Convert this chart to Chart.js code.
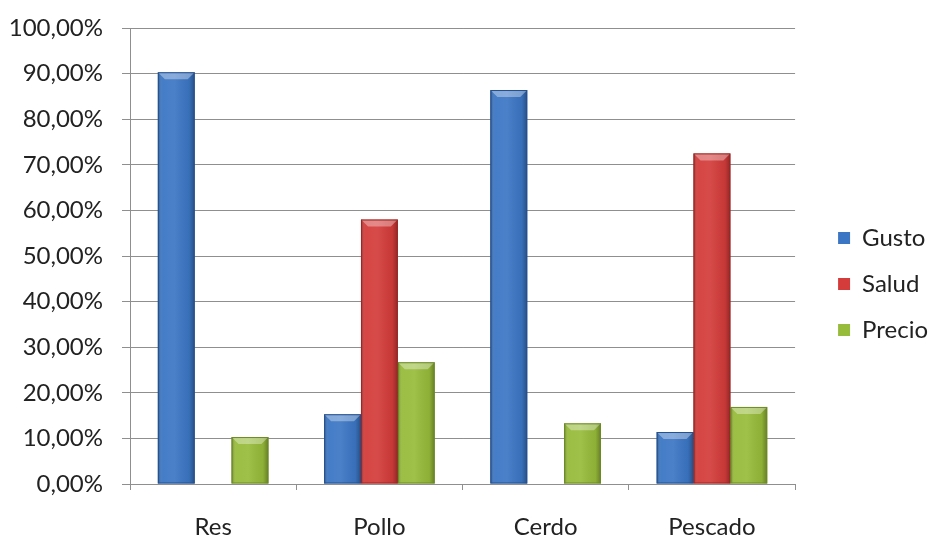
<!DOCTYPE html>
<html>
<head>
<meta charset="utf-8">
<script src="https://cdn.jsdelivr.net/npm/chart.js@4/dist/chart.umd.min.js"></script>
<style>
  html, body { margin: 0; padding: 0; background: #fff; }
  #wrap { width: 930px; height: 536px; }
</style>
</head>
<body>
<div id="wrap"><canvas id="myChart" width="930" height="536"></canvas></div>
<script>
const categories = ['Res', 'Pollo', 'Cerdo', 'Pescado'];
const seriesNames = ['Gusto', 'Salud', 'Precio'];
const gusto = [90.3, 15.3, 86.4, 11.4];
const salud = [0, 58.0, 0, 72.5];
const precio = [10.3, 26.7, 13.3, 16.9];
const yTicks = [0, 10, 20, 30, 40, 50, 60, 70, 80, 90, 100];

const colors = ['#3b76c4', '#d33c3a', '#97bb3a'];
const edgeColors = ['#25508f', '#9c2624', '#6c8a25'];
const gridColor = '#8f8f8f';
const font = { family: 'Lato', size: 24 };

// bevel/shine drawn over each bar from the bar element's own geometry
const bevelPlugin = {
    id: 'bevel',
    afterDatasetsDraw(chart) {
        const c = chart.ctx;
        chart.data.datasets.forEach(function (ds, di) {
            const meta = chart.getDatasetMeta(di);
            meta.data.forEach(function (bar) {
                const p = bar.getProps(['x', 'y', 'base', 'width'], true);
                const h = p.base - p.y;
                if (h < 1) return;
                const l = p.x - p.width / 2;
                const r = p.x + p.width / 2;
                const g = c.createLinearGradient(l, 0, r, 0);
                g.addColorStop(0, 'rgba(0,0,0,0.30)');
                g.addColorStop(0.12, 'rgba(255,255,255,0.05)');
                g.addColorStop(0.45, 'rgba(255,255,255,0.08)');
                g.addColorStop(0.85, 'rgba(0,0,0,0.06)');
                g.addColorStop(1, 'rgba(0,0,0,0.32)');
                c.save();
                c.fillStyle = g;
                c.fillRect(l, p.y, p.width, h);
                const b = Math.min(7, h / 2);
                c.beginPath();
                c.moveTo(l, p.y);
                c.lineTo(r, p.y);
                c.lineTo(r - b, p.y + b);
                c.lineTo(l + b, p.y + b);
                c.closePath();
                c.fillStyle = 'rgba(255,255,255,0.35)';
                c.fill();
                c.strokeStyle = edgeColors[di];
                c.lineWidth = 1;
                c.strokeRect(l + 0.5, p.y + 0.5, p.width - 1, h - 1);
                c.restore();
            });
        });
    }
};

const ctx = document.getElementById('myChart').getContext('2d');
const myChart = new Chart(ctx, {
    type: 'bar',
    data: {
        labels: categories,
        datasets: [gusto, salud, precio].map(function (vals, i) {
            return {
                label: seriesNames[i],
                data: vals,
                backgroundColor: colors[i],
                borderWidth: 0,
                categoryPercentage: 0.665,
                barPercentage: 1
            };
        })
    },
    options: {
        responsive: false,
        animation: false,
        layout: { padding: { top: 28, left: 6, right: -8, bottom: 0 } },
        scales: {
            x: {
                grid: {
                    display: true,
                    drawOnChartArea: false,
                    drawTicks: true,
                    tickLength: 6,
                    color: gridColor
                },
                border: { color: gridColor },
                ticks: {
                    color: '#222',
                    font: { family: 'Lato', size: 24, lineHeight: 1 },
                    padding: 25
                },
                afterFit: function (scale) { scale.height = 52; }
            },
            y: {
                min: 0,
                max: 100,
                afterBuildTicks: function (scale) {
                    scale.ticks = yTicks.map(function (v) { return { value: v }; });
                },
                grid: { color: gridColor, tickLength: 8 },
                border: { color: gridColor },
                ticks: {
                    color: '#222',
                    font: font,
                    padding: 19,
                    callback: function (val) {
                        return val.toFixed(2).replace('.', ',') + '%';
                    }
                },
                afterFit: function (scale) {
                    scale.width = 124;
                    scale.paddingTop = 0;
                    scale.paddingBottom = 0;
                }
            },
            gap: {
                position: 'right',
                display: true,
                grid: { display: false },
                border: { display: false },
                ticks: { display: false },
                afterFit: function (scale) { scale.width = 21; }
            }
        },
        plugins: {
            legend: {
                position: 'right',
                title: {
                    display: true,
                    text: ' ',
                    padding: 0,
                    font: { family: 'Lato', size: 4, lineHeight: 1 }
                },
                labels: {
                    boxWidth: 12,
                    boxHeight: 12,
                    padding: 22,
                    color: '#222',
                    font: font
                }
            },
            title: { display: false },
            tooltip: { enabled: false }
        }
    },
    plugins: [bevelPlugin]
});
</script>
</body>
</html>
